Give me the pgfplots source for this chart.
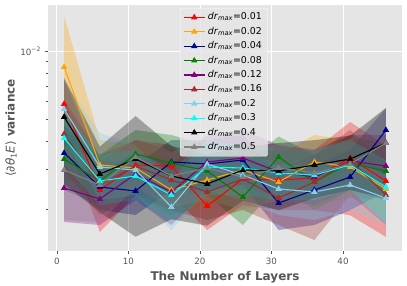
\documentclass[border=0pt]{standalone}
\usepackage{fontspec}
\setmainfont{DejaVu Sans}
\usepackage{pgfplots}
\usepackage{pgfplotstable}
\pgfplotsset{compat=1.18}
\usepgfplotslibrary{fillbetween}
\definecolor{axbg}{HTML}{E5E5E5}
\definecolor{c555}{HTML}{555555}
\definecolor{cRed}{HTML}{FF0000}
\definecolor{cOrange}{HTML}{FFA500}
\definecolor{cDBlue}{HTML}{00008B}
\definecolor{cGreen}{HTML}{008000}
\definecolor{cPurple}{HTML}{800080}
\definecolor{cBrown}{HTML}{A52A2A}
\definecolor{cLBlue}{HTML}{87CEEB}
\definecolor{cCyan}{HTML}{00FFFF}
\definecolor{cBlack}{HTML}{000000}
\definecolor{cGray}{HTML}{808080}

\pgfplotstableread{
x m u l
1 .005842 .007452 .004265
6 .002442 .003290 .001595
11 .003147 .004054 .002321
16 .003115 .003854 .002321
21 .002076 .002843 .001627
26 .002730 .003664 .002097
31 .002703 .003664 .001993
36 .002758 .003664 .001993
41 .003378 .004866 .001890
46 .002675 .003830 .001516
}\ta
\pgfplotstableread{
x m u l
1 .008502 .01426 .002740
6 .003147 .004054 .002442
11 .003052 .003854 .002321
16 .002442 .003310 .001895
21 .002703 .003482 .002097
26 .002991 .003854 .002321
31 .002648 .003482 .002097
36 .003244 .004265 .002442
41 .003083 .004054 .002321
46 .002467 .003310 .001895
}\tb
\pgfplotstableread{
x m u l
1 .003553 .004720 .002569
6 .002517 .003310 .001993
11 .002417 .003147 .001895
16 .003244 .004054 .002442
21 .003179 .004054 .002442
26 .003310 .004265 .002569
31 .002140 .002843 .001627
36 .002442 .003147 .001712
41 .002786 .003664 .001993
46 .004487 .005600 .002400
}\tc
\pgfplotstableread{
x m u l
1 .003343 .004487 .002442
6 .002675 .003482 .002097
11 .003517 .004487 .002703
16 .003211 .004265 .002442
21 .002961 .003854 .002321
26 .002274 .003147 .001712
31 .003412 .004200 .002569
36 .002648 .003482 .001993
41 .003211 .004265 .002442
46 .002961 .003854 .002206
}\td
\pgfplotstableread{
x m u l
1 .002492 .003310 .001765
6 .002229 .002843 .001712
11 .002872 .003664 .002206
16 .002393 .003147 .001712
21 .003244 .004265 .002442
26 .003378 .004487 .002569
31 .002931 .003854 .002206
36 .002786 .003664 .002097
41 .003277 .004265 .002442
46 .003115 .004265 .002206
}\te
\pgfplotstableread{
x m u l
1 .004309 .006084 .002991
6 .002569 .003482 .001895
11 .003115 .004054 .002321
16 .002703 .003664 .001993
21 .002393 .003147 .001801
26 .002730 .003664 .001993
31 .002251 .002991 .001712
36 .002648 .003482 .001470
41 .003310 .004487 .002321
46 .002321 .003147 .001712
}\tf
\pgfplotstableread{
x m u l
1 .005553 .007452 .004054
6 .003083 .004353 .002206
11 .002991 .003854 .002321
16 .002055 .002703 .001627
21 .003179 .004054 .002442
26 .002843 .003664 .002206
31 .002467 .003147 .001895
36 .002393 .003147 .001801
41 .002569 .003310 .001993
46 .002251 .002843 .001712
}\tg
\pgfplotstableread{
x m u l
1 .004138 .005497 .003147
6 .002675 .003482 .002097
11 .002815 .003664 .002206
16 .002321 .002991 .001801
21 .003083 .004054 .002321
26 .003052 .003854 .002321
31 .002902 .003664 .002206
36 .002843 .003664 .002206
41 .003147 .004054 .002442
46 .002517 .003310 .001750
}\th
\pgfplotstableread{
x m u l
1 .005120 .007600 .002600
6 .002872 .003790 .001950
11 .003343 .005170 .001520
16 .002815 .003815 .001815
21 .002595 .003500 .001700
26 .002991 .003790 .002190
31 .002961 .003930 .001990
36 .003147 .004050 .002250
41 .003343 .004240 .002440
46 .003933 .005610 .002250
}\ti
\pgfplotstableread{
x m u l
1 .002991 .003854 .001800
6 .002569 .003300 .001760
11 .003412 .004300 .002500
16 .002815 .003600 .002050
21 .003052 .003900 .002200
26 .002786 .003600 .002000
31 .003052 .003900 .002200
36 .002902 .003700 .002100
41 .003179 .004100 .002250
46 .003933 .005609 .002250
}\tj

\newcommand\band[3]{%
  \addplot[draw=none, forget plot, name path=U#2] table[x=x,y=u]{#1};
  \addplot[draw=none, forget plot, name path=L#2] table[x=x,y=l]{#1};
  \addplot[fill=#3, fill opacity=0.3, draw=none, forget plot] fill between[of=U#2 and L#2];
}
\newcommand\ser[3]{%
  \addplot[#2, line width=1.1pt, mark=triangle*, mark size=2.6pt, mark options={solid, fill=#2}] table[x=x,y=m]{#1};
  \addlegendentry{\textit{dr}\textsubscript{\textit{max}}=#3}
}

\begin{document}
\begin{tikzpicture}
\begin{axis}[
  at={(0,0)}, anchor=south west,
  scale only axis, width=354pt, height=246pt,
  ymode=log,
  xmin=-1.25, xmax=48.25,
  ymin=0.001315, ymax=0.01595,
  axis background/.style={fill=axbg},
  axis line style={draw=none},
  grid=major,
  major grid style={white, line width=0.9pt},
  xtick={0,10,20,30,40},
  xticklabels={0,10,20,30,40},
  ytick={0.01},
  yticklabels={10\textsuperscript{−2}},
  minor ytick={0.002,0.003,0.004,0.005,0.006,0.007,0.008,0.009},
  tick align=outside,
  xtick pos=bottom, ytick pos=left,
  major tick length=3.5pt, minor tick length=2pt,
  tick style={c555, line width=0.8pt},
  ticklabel style={font=\fontsize{8.7}{10}\selectfont, text=c555},
  xlabel={\textbf{The Number of Layers}},
  ylabel={⟨\textit{∂θ}\textsubscript{1}\textit{E}⟩ \textbf{variance}},
  xlabel style={font=\fontsize{12}{14}\selectfont, text=c555, at={(axis description cs:0.5,-0.118)}, anchor=base},
  ylabel style={font=\fontsize{12}{14}\selectfont, text=c555, at={(axis description cs:-0.1045,0.5)}, anchor=center, rotate=0},
  legend style={at={(axis description cs:0.3729,0.9878)}, anchor=north west,
    font=\fontsize{9.4}{11}\selectfont, fill=axbg, fill opacity=0.8, text opacity=1,
    draw=white, rounded corners=2pt, row sep=0pt,
    nodes={text height=7pt, text depth=2.2pt, inner sep=2.6pt}},
  legend cell align=left,
  legend image code/.code={\draw[mark repeat=2,mark phase=2] plot coordinates {(0pt,0pt) (10.5pt,0pt) (21pt,0pt)};},
]
\band{\ta}{a}{cRed}
\band{\tb}{b}{cOrange}
\band{\tc}{c}{cDBlue}
\band{\td}{d}{cGreen}
\band{\te}{e}{cPurple}
\band{\tf}{f}{cBrown}
\band{\tg}{g}{cLBlue}
\band{\th}{h}{cCyan}
\band{\ti}{i}{cBlack}
\band{\tj}{j}{cGray}
\ser{\ta}{cRed}{0.01}
\ser{\tb}{cOrange}{0.02}
\ser{\tc}{cDBlue}{0.04}
\ser{\td}{cGreen}{0.08}
\ser{\te}{cPurple}{0.12}
\ser{\tf}{cBrown}{0.16}
\ser{\tg}{cLBlue}{0.2}
\ser{\th}{cCyan}{0.3}
\ser{\ti}{cBlack}{0.4}
\ser{\tj}{cGray}{0.5}
\end{axis}
\pgfresetboundingbox
\path[use as bounding box] (-48pt,-34pt) rectangle (359pt,251pt);
\end{tikzpicture}
\end{document}
